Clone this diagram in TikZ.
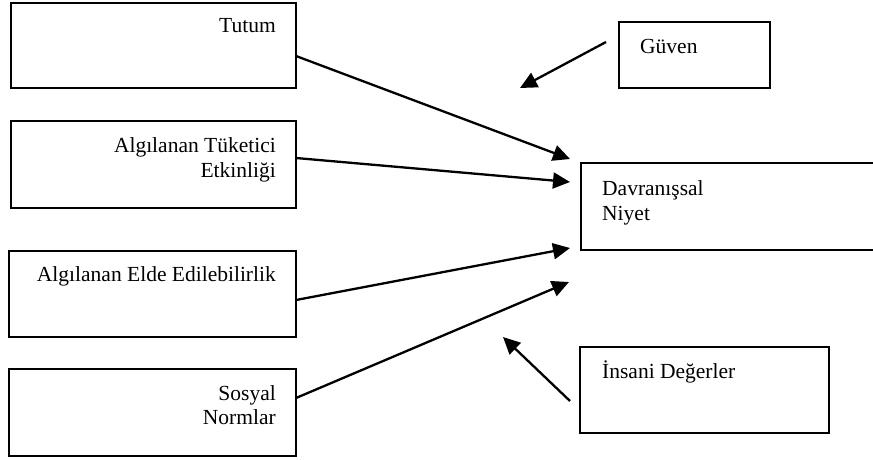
\documentclass[tikz,border=0pt]{standalone}
\usepackage{fontspec}
\setmainfont{Liberation Serif}
\usetikzlibrary{arrows.meta}
\begin{document}
\begin{tikzpicture}[x=1pt,y=-1pt,
 box/.style={draw,line width=1.4pt,inner sep=0pt,outer sep=0pt},
 lbl/.style={inner sep=0pt,font=\fontsize{21.5}{25}\selectfont},
 arr/.style={line width=2.3pt,-{Triangle[length=17pt,width=16pt]}}]
\useasboundingbox (0,0) rectangle (873,459);
% boxes
\node[box,minimum width=285pt,minimum height=85pt] (tutum) at (153.5,45.5) {};
\node[box,minimum width=285pt,minimum height=87pt] (ate) at (153.5,164.5) {};
\node[box,minimum width=287pt,minimum height=86pt] (aee) at (152.5,294) {};
\node[box,minimum width=287pt,minimum height=87pt] (sn) at (152.5,412.5) {};
\node[box,minimum width=151pt,minimum height=66pt] (guven) at (694.5,55) {};
\node[box,minimum width=299pt,minimum height=87pt] (dn) at (730.5,206.5) {};
\node[box,minimum width=249pt,minimum height=86pt] (id) at (704.5,390) {};
% labels
\node[lbl,anchor=base east] (tutumT) at (276,32) {Tutum};
\node[lbl,anchor=base east] (ateT1) at (276,152) {Algılanan Tüketici};
\node[lbl,anchor=base east] (ateT2) at (276,177) {Etkinliği};
\node[lbl,anchor=base east] (aeeT) at (276,281) {Algılanan Elde Edilebilirlik};
\node[lbl,anchor=base east] (snT1) at (276,400) {Sosyal};
\node[lbl,anchor=base east] (snT2) at (276,424) {Normlar};
\node[lbl,anchor=base west] (guvenT) at (640,53) {Güven};
\node[lbl,anchor=base west] (dnT1) at (602,195) {Davranışsal};
\node[lbl,anchor=base west] (dnT2) at (602,220) {Niyet};
\node[lbl,anchor=base west] (idT) at (602,378) {İnsani Değerler};
% arrow end points
\coordinate (tS) at (296,56);   \coordinate (tE) at (570,159);
\coordinate (aS) at (296,158);  \coordinate (aE) at (570,182);
\coordinate (eS) at (296,300);  \coordinate (eE) at (570,248);
\coordinate (sS) at (296,398);  \coordinate (sE) at (569,282);
\coordinate (gS) at (606,42);   \coordinate (gE) at (520,88);
\coordinate (iS) at (570,401);  \coordinate (iE) at (503,337);
\draw[arr] (tS) -- (tE);
\draw[arr] (aS) -- (aE);
\draw[arr] (eS) -- (eE);
\draw[arr] (sS) -- (sE);
\draw[arr] (gS) -- (gE);
\draw[arr] (iS) -- (iE);
\end{tikzpicture}
\end{document}
